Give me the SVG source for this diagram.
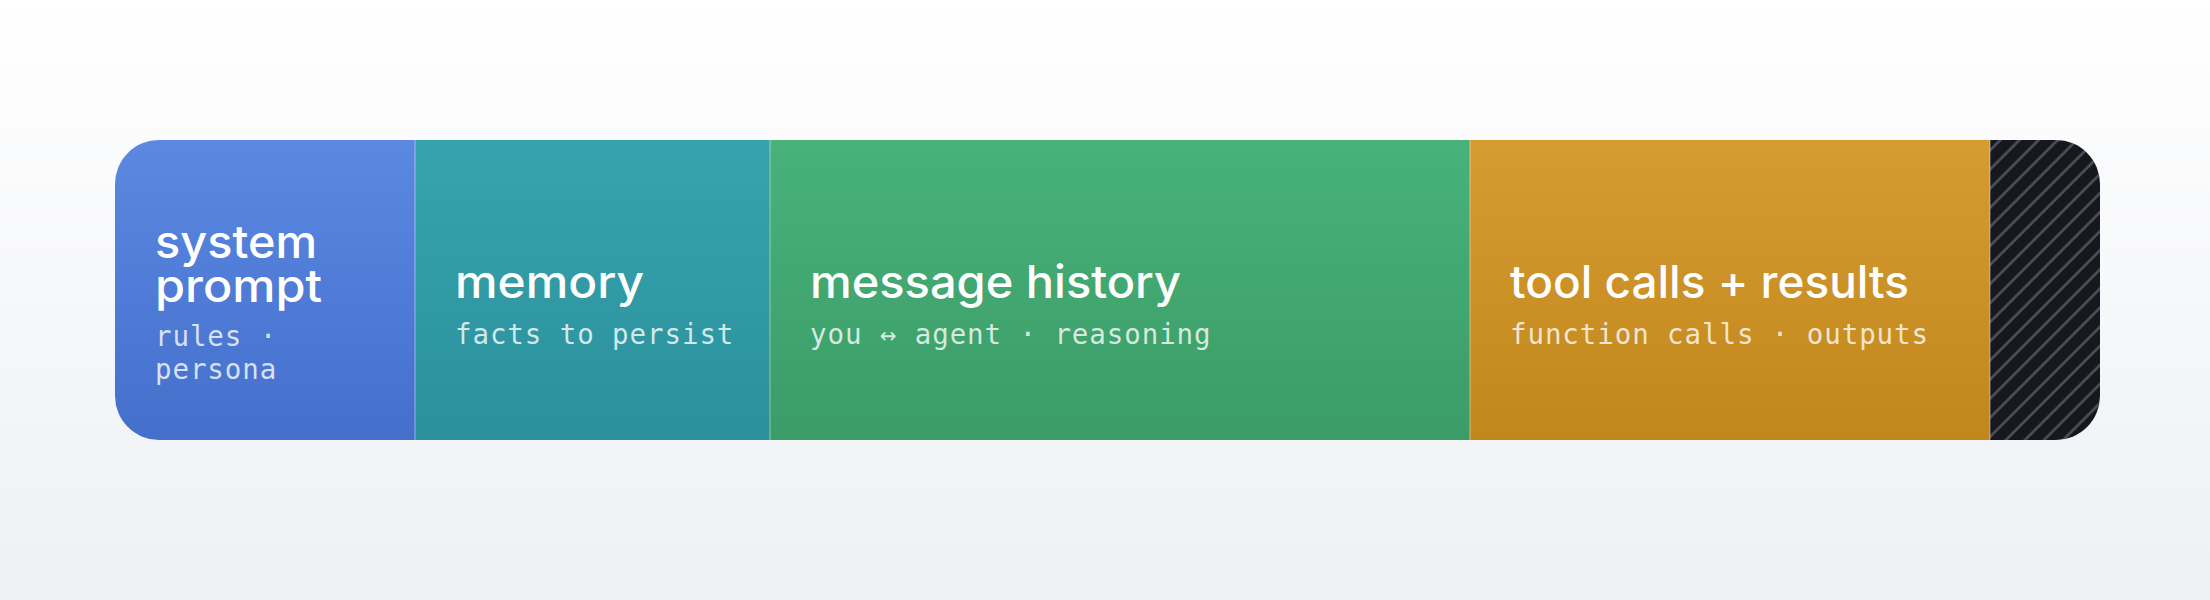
<svg xmlns="http://www.w3.org/2000/svg" width="2210" height="600" viewBox="0 0 2210 600">
  <defs>
    <linearGradient id="bg" x1="0" y1="0" x2="0" y2="1">
      <stop offset="0" stop-color="#ffffff"/>
      <stop offset="1" stop-color="#eef0f4"/>
    </linearGradient>
    <linearGradient id="gBlue" x1="0" y1="0" x2="0" y2="1">
      <stop offset="0" stop-color="#5b88e1"/>
      <stop offset="1" stop-color="#4470cc"/>
    </linearGradient>
    <linearGradient id="gTeal" x1="0" y1="0" x2="0" y2="1">
      <stop offset="0" stop-color="#36a4ae"/>
      <stop offset="1" stop-color="#2b909c"/>
    </linearGradient>
    <linearGradient id="gGreen" x1="0" y1="0" x2="0" y2="1">
      <stop offset="0" stop-color="#48b27a"/>
      <stop offset="1" stop-color="#3b9c67"/>
    </linearGradient>
    <linearGradient id="gGold" x1="0" y1="0" x2="0" y2="1">
      <stop offset="0" stop-color="#d69c31"/>
      <stop offset="1" stop-color="#c1861c"/>
    </linearGradient>
    <pattern id="hatch" patternUnits="userSpaceOnUse" width="13.5" height="13.5" patternTransform="rotate(45)">
      <rect width="13.5" height="13.5" fill="#16181e"/>
      <line x1="1.5" y1="0" x2="1.5" y2="13.5" stroke="#4c505b" stroke-width="2.6"/>
    </pattern>
    <clipPath id="barClip">
      <rect x="115" y="140" width="1985" height="300" rx="44" ry="44"/>
    </clipPath>
  </defs>
  <style>
    .title { font-family: Inter, "Open Sans", "Liberation Sans", sans-serif; font-weight: 500; font-size: 45px; fill: #ffffff; }
    .sub { font-family: "DejaVu Sans Mono", "Liberation Mono", monospace; font-size: 27.5px; letter-spacing: 0.9px; fill: #ffffff; fill-opacity: 0.78; }
    .divider { stroke: #ffffff; stroke-opacity: 0.3; stroke-width: 1.5; }
  </style>
  <rect x="0" y="0" width="2210" height="600" fill="url(#bg)"/>
  <g clip-path="url(#barClip)">
    <g id="system-prompt">
      <rect x="115" y="140" width="300" height="300" fill="url(#gBlue)"/>
      <text class="title" x="155" y="258" textLength="162" lengthAdjust="spacingAndGlyphs">system</text>
      <text class="title" x="155" y="302" textLength="167" lengthAdjust="spacingAndGlyphs">prompt</text>
      <text class="sub" x="155" y="346">rules ·</text>
      <text class="sub" x="155" y="379">persona</text>
    </g>
    <g id="memory">
      <rect x="415" y="140" width="355" height="300" fill="url(#gTeal)"/>
      <text class="title" x="455" y="298" textLength="189" lengthAdjust="spacingAndGlyphs">memory</text>
      <text class="sub" x="455" y="343.5">facts to persist</text>
    </g>
    <g id="message-history">
      <rect x="770" y="140" width="700" height="300" fill="url(#gGreen)"/>
      <text class="title" x="810" y="298" textLength="371" lengthAdjust="spacingAndGlyphs">message history</text>
      <text class="sub" x="810" y="343.5">you ↔ agent · reasoning</text>
    </g>
    <g id="tool-calls">
      <rect x="1470" y="140" width="520" height="300" fill="url(#gGold)"/>
      <text class="title" x="1510" y="298" textLength="399" lengthAdjust="spacingAndGlyphs">tool calls + results</text>
      <text class="sub" x="1510" y="343.5">function calls · outputs</text>
    </g>
    <g id="free-space">
      <rect x="1990" y="140" width="110" height="300" fill="url(#hatch)"/>
    </g>
    <g id="dividers">
      <line class="divider" x1="415" y1="140" x2="415" y2="440"/>
      <line class="divider" x1="770" y1="140" x2="770" y2="440"/>
      <line class="divider" x1="1470" y1="140" x2="1470" y2="440"/>
      <line class="divider" x1="1990" y1="140" x2="1990" y2="440"/>
    </g>
  </g>
</svg>
